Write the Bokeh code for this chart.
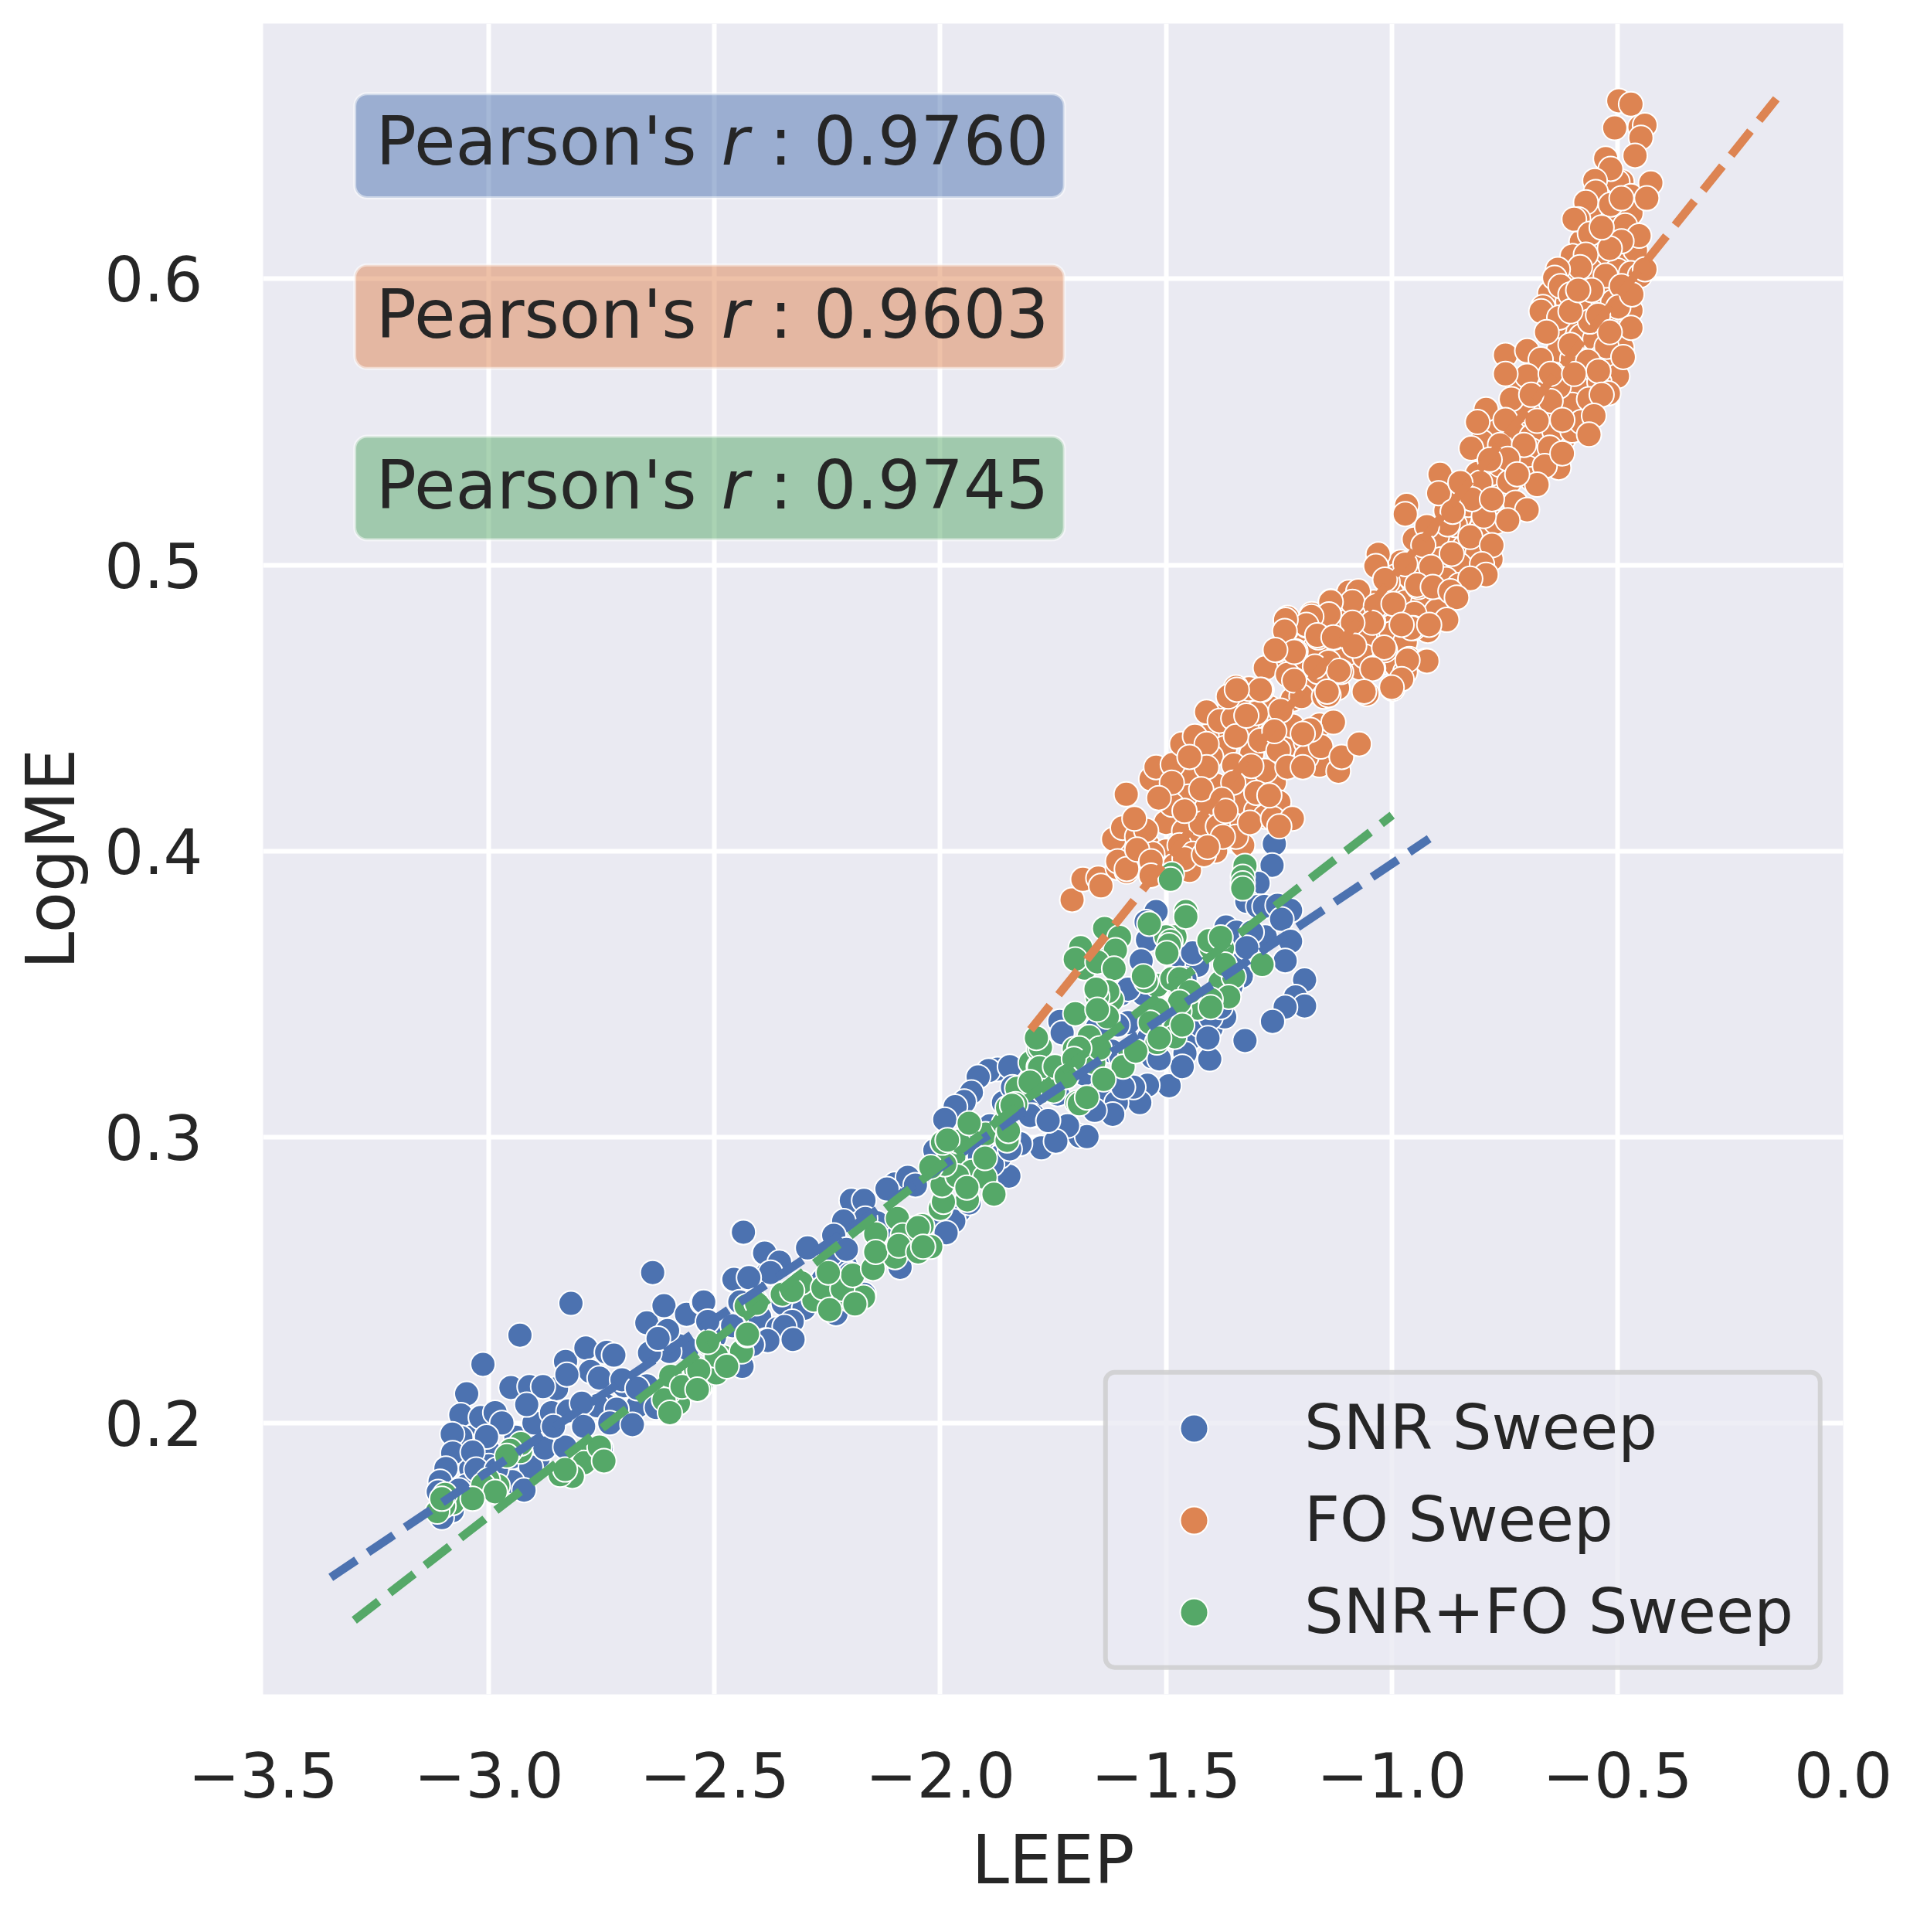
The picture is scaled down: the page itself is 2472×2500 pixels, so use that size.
from bokeh.plotting import figure
from bokeh.models import Range1d, FixedTicker, Label, BoxAnnotation, Legend, LegendItem, ColumnDataSource
from bokeh.embed import file_html
from bokeh.resources import INLINE

x_ticks = [-3.5, -3.0, -2.5, -2.0, -1.5, -1.0, -0.5, 0.0]
x_tick_labels = ["\u22123.5", "\u22123.0", "\u22122.5", "\u22122.0", "\u22121.5", "\u22121.0", "\u22120.5", "0.0"]
y_ticks = [0.2, 0.3, 0.4, 0.5, 0.6]
y_tick_labels = ["0.2", "0.3", "0.4", "0.5", "0.6"]
series_names = ["SNR Sweep", "FO Sweep", "SNR+FO Sweep"]
pearson_values = ["0.9760", "0.9603", "0.9745"]

fit_snr_x = [-3.35, -0.917]
fit_snr_y = [0.146, 0.4043]
fit_fo_x = [-1.80, -0.148]
fit_fo_y = [0.3375, 0.663]
fit_both_x = [-3.298, -0.999]
fit_both_y = [0.131, 0.4125]

snr_points = [
(-3.04,.1950),(-3.00,.1900),(-2.94,.1950),(-2.89,.1880),(-3.04,.1840),(-2.74,.2060),(-2.67,.2060),(-2.58,.2270),
(-2.56,.2260),(-2.50,.2300),(-2.46,.2340),(-2.40,.2370),(-2.36,.2330),(-2.31,.2490),(-2.24,.2470),(-2.21,.2550),
(-2.10,.2660),(-2.14,.2700),(-2.19,.2700),(-1.96,.2980),(-1.93,.3040),
(-1.86,.3120),(-1.80,.3130),(-1.74,.3150),(-1.68,.3220),(-1.62,.3300),(-1.60,.3280),(-1.56,.3340),(-1.50,.3390),
(-1.45,.3420),(-1.40,.3480),(-1.35,.3600),(-1.30,.3640),(-1.28,.3700),(-1.47,.3630),(-1.43,.3600),(-1.60,.3500),
(-1.55,.3500),(-1.65,.3150),(-1.53,.3280),(-1.45,.3340),(-1.40,.3380),(-1.37,.3420),(-2.30,.2430),(-2.26,.2500),
(-2.20,.2520),(-2.14,.2580),(-2.10,.2600),(-2.06,.2680),(-2.00,.2720),(-1.93,.2850),(-1.89,.2950),(-2.60,.2250),
(-2.65,.2130),(-2.70,.2130),(-2.76,.2060),(-2.86,.1930),(-2.95,.1880),(-3.05,.1780),(-3.00,.1850),(-2.90,.2000),
(-2.85,.2120),
(-3.013,.2205),(-2.931,.2307),(-2.818,.2418),(-2.637,.2526),(-2.437,.2667),(-2.390,.2593),(-3.049,.2102),
(-3.062,.2028),(-3.018,.2019),(-2.986,.2036),(-2.971,.2000),(-2.951,.2124),(-2.910,.2127),(-2.880,.2127),
(-2.916,.2064),(-3.062,.1949),(-3.081,.1961),(-3.005,.1952),(-3.080,.1895),(-3.036,.1898),(-3.095,.1841),
(-3.108,.1795),(-3.112,.1759),(-3.081,.1693),(-2.907,.1846),(-2.876,.1912),(-2.948,.1795),(-2.861,.2036),
(-2.824,.2042),(-2.794,.2069),(-2.790,.1988),(-2.831,.1916),(-2.857,.1988),(-2.830,.2215),(-2.785,.2262),
(-2.739,.2247),(-2.723,.2237),(-2.775,.2180),(-2.827,.2169),(-2.755,.2157),(-2.705,.2151),(-2.717,.2048),
(-2.732,.2000),(-2.682,.1994),(-2.671,.2121),(-2.644,.2245),(-2.650,.2350),(-2.612,.2410),(-2.604,.2323),
(-2.562,.2380),(-2.527,.2422),(-2.625,.2295),(-2.458,.2500),(-2.420,.2500),(-2.382,.2524),(-2.443,.2422),
(-2.439,.2199),(-2.386,.2289),(-2.629,.2054),(-2.751,.1910),(-3.002,.1771),(-3.104,.1669),(-3.028,.1837),
(-3.066,.1765),(-2.983,.1837),(-2.922,.1765),
(-1.848,.3243),(-1.873,.3237),(-1.893,.3232),(-1.916,.3210),(-1.931,.3156),(-1.947,.3124),(-1.967,.3106),
(-1.990,.3061),(-2.012,.2953),(-1.890,.3039),(-1.717,.3039),(-1.774,.2967),(-1.743,.2985),(-1.691,.3003),
(-1.794,.3075),(-1.834,.3183),(-1.822,.2976),(-1.856,.2958),(-1.848,.2863),(-1.868,.2931),(-1.885,.2904),
(-1.913,.2931),(-2.100,.2836),(-2.072,.2859),(-2.118,.2818),(-2.055,.2832),(-2.197,.2778),(-2.169,.2778),
(-2.166,.2715),(-2.214,.2706),(-2.236,.2656),(-2.294,.2612),(-1.958,.2742),(-1.970,.2706),(-1.987,.2665),
(-1.936,.2769),(-2.089,.2544),(-2.436,.2667),(-2.389,.2594),(-2.356,.2562),(-2.376,.2526),(-2.457,.2502),
(-2.424,.2508),(-2.444,.2423),(-2.524,.2423),(-2.348,.2418),(-2.302,.2400),(-2.328,.2355),(-2.345,.2337),
(-2.326,.2292),(-2.382,.2288),(-2.416,.2274),(-2.439,.2198),(-2.231,.2382),(-2.169,.2450),(-2.243,.2589),
(-2.208,.2607),(-2.515,.2355),
(-1.260,.4025),(-1.265,.3950),(-1.296,.3887),(-1.321,.3824),(-1.296,.3806),(-1.282,.3806),(-1.253,.3810),
(-1.224,.3792),(-1.244,.3761),(-1.224,.3684),(-1.236,.3616),(-1.193,.3549),(-1.213,.3490),(-1.193,.3458),
(-1.236,.3454),(-1.264,.3404),(-1.325,.3337),(-1.403,.3272),(-1.493,.3179),(-1.541,.3181),(-1.558,.3120),
(-1.610,.3120),(-1.618,.3079),(-1.675,.3001),(-1.718,.3039),(-1.776,.2962),(-1.744,.2985),(-1.658,.3093),
(-1.522,.3788),(-1.544,.3752),(-1.541,.3689),(-1.555,.3616),(-1.441,.3644),(-1.584,.3517),(-1.367,.3734),
(-1.344,.3716),(-1.310,.3716),(-1.321,.3662),(-1.333,.3562),(-1.356,.3526),(-1.735,.3404),(-1.730,.3364),
(-1.424,.3391),(-1.401,.3418),(-1.407,.3346),(-1.458,.3292),(-1.464,.3246),(-1.515,.3273),(-1.584,.3400),
(-1.607,.3391),(-1.538,.3346),(-1.572,.3174),(-1.595,.3174),(-1.846,.3246),(-1.840,.3174),(-1.801,.3075),
(-1.761,.3057),(-1.823,.2976),(-1.846,.2958),(-1.629,.3418),(-1.652,.3382),(-1.458,.3553),(-1.379,.3454),
]

fo_points = [
(-1.12,.4800),(-1.08,.4800),(-1.04,.4870),(-1.00,.4980),(-1.02,.4740),(-1.07,.4640),(-1.12,.4570),(-1.18,.4560),
(-1.22,.4530),(-1.26,.4470),(-1.31,.4460),(-1.12,.4700),(-1.15,.4790),(-1.20,.4760),(-.93,.4960),(-.92,.4770),
(-.90,.4880),(-.83,.5010),(-.87,.5080),(-.93,.5050),(-.98,.5010),(-.88,.5190),(-.85,.5170),(-.80,.5220),(-.75,.5270),
(-.78,.5320),(-.72,.5390),(-.67,.5420),(-.62,.5440),(-.58,.5560),(-.62,.5530),(-.67,.5470),(-.71,.5470),(-.63,.5660),
(-.57,.5750),(-.59,.5650),(-.60,.5830),(-.56,.5920),(-.53,.5850),(-.52,.5760),(-.49,.5860),(-.52,.5980),(-.48,.6000),
(-.55,.6050),(-.58,.6130),(-.53,.6170),(-.49,.6230),(-.56,.6210),(-.52,.6290),(-.49,.6340),(-1.36,.4420),(-1.41,.4400),
(-1.45,.4310),(-1.36,.4490),(-1.42,.4100),(-1.30,.4240),(-1.26,.4240),(-1.21,.4350),(-1.16,.4300),(-1.25,.4170),
(-1.47,.4240),(-1.50,.4180),
(-.53,.6340),(-.50,.6340),(-.47,.6290),(-.54,.6230),(-.51,.6210),(-.47,.6230),(-.55,.6120),(-.52,.6060),(-.48,.6080),
(-.46,.6100),(-.60,.6080),(-.56,.6030),(-.50,.6030),(-.47,.6020),(-.60,.6000),(-.54,.5940),(-.51,.5920),(-.47,.5890),
(-.58,.5890),(-.65,.5950),(-.61,.5920),(-.64,.5830),(-.58,.5800),(-.55,.5790),(-.50,.5810),(-.49,.5760),(-.63,.5750),
(-.60,.5720),(-.54,.5720),(-.51,.5700),(-.50,.5660),(-.66,.5660),(-.61,.5620),(-.58,.5610),(-.54,.5640),(-.52,.5600),
(-.72,.5620),(-.68,.5600),(-.60,.5560),(-.66,.5530),(-.71,.5540),(-.77,.5490),(-.73,.5460),(-.69,.5450),(-.64,.5470),
(-.60,.5470),(-.58,.5500),(-.80,.5430),(-.76,.5420),(-.69,.5400),(-.65,.5410),(-.76,.5350),(-.70,.5340),(-.63,.5340),
(-.81,.5320),(-.74,.5290),(-.69,.5300),(-.86,.5230),(-.83,.5210),(-.80,.5130),(-.77,.5150),(-.84,.5060),(-.81,.5040),
(-.78,.5020),(-.90,.5100),(-.86,.5140),(-.95,.5090),(-.89,.5020),(-.94,.5000),(-.85,.5000),(-.99,.4960),(-.96,.4960),
(-.88,.4950),(-.85,.4930),(-1.00,.4900),(-.97,.4870),(-.93,.4870),(-.90,.4840),(-1.06,.4840),(-1.00,.4810),(-.95,.4830),
(-1.10,.4840),(-1.06,.4750),(-1.00,.4760),(-.97,.4730),(-1.17,.4710),(-1.10,.4690),(-1.06,.4680),(-1.02,.4660),
(-.99,.4650),(-1.14,.4660),(-1.24,.4650),(-1.20,.4640),(-1.28,.4640),(-1.33,.4520),(-1.27,.4500),(-1.20,.4540),
(-1.15,.4540),(-1.32,.4420),(-1.24,.4430),(-1.16,.4440),(-1.37,.4360),(-1.31,.4340),(-1.24,.4360),(-1.19,.4380),
(-1.40,.4330),(-1.35,.4300),(-1.28,.4280),(-1.44,.4260),(-1.39,.4230),(-1.33,.4170),(-1.30,.4140),(-1.28,.4120),
(-1.45,.4190),(-1.41,.4150),(-1.36,.4100),(-1.50,.4100),(-1.46,.4070),(-1.43,.4040),(-1.39,.4000),(-1.33,.4020),
(-1.54,.4020),(-1.50,.4000),(-1.47,.4020),(-1.44,.3990),(-1.52,.3950),(-1.48,.3950),(-1.45,.3960),(-1.58,.4010),
(-1.53,.3990),
(-1.708,.3829),(-1.684,.3901),(-1.650,.3905),(-1.644,.3878),(-1.607,.3941),(-1.587,.3928),
(-1.588,.4198),(-1.616,.4041),(-1.596,.4081),(-1.564,.4050),(-1.544,.4072),(-1.570,.4113),(-1.607,.3964),
(-1.587,.3937),(-1.564,.4005),(-1.533,.3964),(-1.533,.3914),(-1.448,.3932),(-1.459,.3973),(-1.416,.3987),
(-1.487,.4162),(-1.533,.4252),(-1.522,.4293),(-1.485,.4302),(-1.465,.4374),(-1.436,.4401),(-1.410,.4374),
(-1.410,.4293),(-1.410,.4486),(-1.381,.4455),(-1.351,.4464),(-1.422,.4216),(-1.351,.4239),(-1.376,.4180),
(-1.422,.4095),(-1.385,.4086),(-1.345,.4050),(-1.374,.4050),(-1.408,.4014),(-1.314,.4099),(-1.263,.4113),
(-1.220,.4113),(-1.249,.4086),(-1.300,.4203),(-1.271,.4194),(-1.291,.4387),(-1.251,.4351),(-1.220,.4437),
(-1.189,.4329),(-1.157,.4365),(-1.118,.4279),(-1.111,.4329),(-1.072,.4374),(-1.129,.4450),(-1.180,.4423),
(-1.231,.4293),(-1.197,.4293),(-1.311,.4297),(-1.345,.4401),(-1.288,.4563),(-1.316,.4567),(-1.345,.4572),
(-1.362,.4540),(-1.300,.4482),(-1.246,.4491),(-1.217,.4599),(-1.231,.4617),(-1.140,.4545),(-1.055,.4549),
(-0.998,.4567),(-1.041,.4639),(-1.112,.4626),(-1.163,.4626),(-1.213,.4698),(-1.254,.4702),(-1.234,.4774),
(-1.231,.4815),(-1.188,.4788),(-1.163,.4747),(-1.126,.4747),(-1.135,.4873),(-1.177,.4828),(-1.100,.4801),
(-1.083,.4878),(-1.026,.4860),(-1.041,.4801),(-1.015,.4702),(-0.952,.4779),(-0.941,.4923),(-1.009,.4941),
(-0.961,.4671),(-0.924,.4666),(-0.970,.4626),(-1.095,.4905),(-1.322,.4473),(-1.260,.4419),(-1.197,.4410),
(-1.448,.4329),(-1.487,.4239),(-1.516,.4185),(-1.459,.4140),(-1.368,.4140),
(-0.497,.6623),(-0.470,.6611),(-0.506,.6528),(-0.450,.6531),(-0.439,.6538),(-0.448,.6494),(-0.461,.6431),
(-0.526,.6421),(-0.515,.6385),(-0.550,.6344),(-0.548,.6304),(-0.426,.6336),(-0.435,.6282),(-0.570,.6268),
(-0.515,.6260),(-0.491,.6282),(-0.587,.6209),(-0.596,.6209),(-0.483,.6187),(-0.452,.6151),(-0.491,.6132),
(-0.561,.6158),(-0.570,.6085),(-0.583,.6041),(-0.526,.6012),(-0.632,.6034),(-0.639,.6004),(-0.450,.6012),
(-0.439,.6034),(-0.557,.5961),(-0.491,.5975),(-0.626,.5975),(-0.604,.5946),(-0.498,.5902),(-0.468,.5946),
(-0.665,.5902),(-0.669,.5887),(-0.629,.5865),(-0.561,.5851),(-0.543,.5873),(-0.470,.5829),(-0.657,.5814),
(-0.604,.5770),(-0.524,.5763),(-0.487,.5727),(-0.565,.5712),(-0.748,.5734),(-0.700,.5749),(-0.670,.5719),
(-0.700,.5661),(-0.748,.5668),(-0.542,.5678),(-0.630,.5624),(-0.563,.5580),(-0.535,.5595),(-0.735,.5580),
(-0.648,.5573),(-0.791,.5544),(-0.810,.5500),(-0.748,.5507),(-0.678,.5504),(-0.552,.5522),(-0.563,.5456),
(-0.622,.5507),(-0.824,.5408),(-0.707,.5420),(-0.743,.5371),(-0.661,.5346),(-0.622,.5390),(-0.783,.5368),
(-0.804,.5288),(-0.678,.5281),(-0.722,.5317),(-0.893,.5317),(-0.896,.5251),(-0.848,.5288),(-0.967,.5208),
(-0.970,.5178),(-0.726,.5218),(-0.700,.5193),(-0.743,.5156),(-0.796,.5171),(-0.876,.5142),(-0.922,.5134),
(-0.826,.5098),(-0.778,.5069),(-0.930,.5069),(-0.867,.5039),(-1.030,.5037),(-1.035,.4996),(-0.970,.5003),
(-0.800,.5003),(-0.791,.4966),(-0.913,.4993),(-0.826,.4952),(-1.015,.4949),(-0.944,.4930),(-0.909,.4923),
(-1.074,.4908),(-0.870,.4908),(-0.856,.4886),(-1.087,.4871),(-1.035,.4857),(-1.135,.4871),(-0.878,.4808),
(-0.957,.4779),(-0.917,.4791),(-1.043,.4798),(-1.087,.4798),(-1.139,.4827),(-1.178,.4820),(-1.189,.4791),
(-1.235,.4808),(-1.237,.4769),(-1.165,.4754),(-1.129,.4747),(-1.017,.4711),(-1.216,.4696),(-1.258,.4703),
(-0.922,.4664),(-1.043,.4637),(-0.965,.4667),(-1.117,.4630),(-1.216,.4596),(-1.170,.4645),(-0.978,.4601),
(-1.000,.4572),(-1.291,.4564),(-1.343,.4564),(-1.143,.4557),(-1.061,.4557),
(-0.604,.5887),(-0.587,.5961),(-0.517,.6107),(-0.535,.6180),(-0.648,.5668),(-0.596,.5668),(-0.517,.5814),
(-0.691,.5595),(-0.822,.5230),(-0.778,.5230),(-0.865,.5186),(-0.996,.4864),(-0.978,.4791),(-1.083,.4718),
]

both_points = [
(-1.62,.3480),(-1.63,.3420),(-1.67,.3350),(-1.76,.3180),(-1.72,.3240),(-1.66,.3260),(-1.58,.3300),(-1.52,.3330),
(-1.43,.3450),(-1.38,.3540),(-1.35,.3560),(-1.52,.3530),(-1.47,.3440),(-1.48,.3380),(-1.48,.3700),(-1.50,.3700),
(-1.40,.3660),(-1.375,.3660),(-1.68,.3590),(-1.63,.3620),(-1.80,.3260),(-1.83,.3170),(-1.90,.3010),(-1.97,.2930),
(-1.93,.2880),(-1.94,.2780),(-1.85,.3000),(-2.00,.2750),(-2.04,.2690),(-2.10,.2580),(-2.53,.2130),(-2.48,.2230),
(-2.44,.2250),(-2.58,.2070),(-2.60,.2110),(-2.78,.1880),(-2.82,.1830),(-2.77,.1900),(-2.93,.1900),(-2.98,.1780),
(-3.08,.1720),(-3.10,.1710),(-2.28,.2430),(-2.24,.2470),(-2.20,.2430),(-2.17,.2440),(-2.35,.2450),
(-3.114,.1690),(-3.097,.1750),(-3.104,.1735),(-2.929,.1928),(-2.952,.1904),(-2.960,.1885),(-3.002,.1801),
(-3.013,.1783),(-2.986,.1759),(-3.036,.1735),(-2.789,.1861),(-2.815,.1813),(-2.842,.1819),(-2.755,.1916),
(-2.745,.1867),(-2.831,.1837),(-2.597,.2163),(-2.612,.2081),(-2.599,.2036),(-2.542,.2187),(-2.572,.2127),
(-2.534,.2121),(-2.515,.2277),(-2.473,.2199),(-2.428,.2307),(-2.496,.2175),(-2.409,.2428),(-2.496,.2235),
(-2.515,.2283),(-2.427,.2310),(-2.473,.2198),(-2.535,.2184),(-2.538,.2117),(-2.430,.2409),(-2.407,.2418),
(-2.308,.2490),(-2.328,.2463),(-2.260,.2472),(-2.217,.2468),(-2.194,.2517),(-2.245,.2396),(-2.189,.2416),
(-2.248,.2526),(-2.149,.2540),(-2.143,.2661),(-2.143,.2598),(-2.095,.2715),(-2.083,.2656),(-2.049,.2683),
(-2.092,.2620),(-2.049,.2598),(-2.021,.2616),(-2.038,.2616),(-1.993,.2773),(-1.996,.2832),(-1.962,.2863),
(-1.901,.2859),(-1.881,.2800),(-1.901,.2926),(-1.990,.2904),(-2.021,.2895),(-1.995,.2980),(-1.961,.2985),
(-1.984,.2989),(-1.936,.3048),(-1.852,.2988),(-1.859,.3048),(-1.833,.3115),(-1.851,.3102),(-1.782,.3245),
(-1.782,.3308),(-1.748,.3245),(-1.771,.3165),(-1.697,.3120),(-1.703,.3308),(-1.721,.3210),(-1.941,.2823),
(-1.487,.3919),(-1.490,.3901),(-1.325,.3948),(-1.330,.3910),(-1.330,.3887),(-1.330,.3869),(-1.456,.3788),
(-1.456,.3770),(-1.636,.3729),(-1.603,.3698),(-1.689,.3662),(-1.701,.3621),(-1.612,.3653),(-1.652,.3612),
(-1.615,.3589),(-1.537,.3745),(-1.490,.3684),(-1.493,.3671),(-1.498,.3643),(-1.405,.3686),(-1.379,.3698),
(-1.287,.3603),(-1.370,.3603),(-1.544,.3544),(-1.550,.3562),(-1.629,.3508),(-1.652,.3490),(-1.655,.3517),
(-1.487,.3553),(-1.470,.3553),(-1.361,.3490),(-1.401,.3481),(-1.447,.3508),(-1.470,.3472),(-1.401,.3454),
(-1.518,.3445),(-1.701,.3431),(-1.652,.3445),(-1.481,.3350),(-1.464,.3391),(-1.535,.3400),(-1.515,.3346),
(-1.647,.3310),(-1.692,.3310),(-1.778,.3314),(-1.787,.3346),(-1.780,.3242),(-1.746,.3246),(-1.704,.3273),
(-1.595,.3246),(-1.567,.3300),(-1.638,.3201),(-1.772,.3161),(-1.749,.3161),(-1.692,.3116),(-1.675,.3138),
(-1.841,.3111),(-1.849,.3021),(-1.721,.3210),(-1.801,.3192),
]

colors = ["#4C72B0", "#DD8452", "#55A868"]
text_color = "#262626"
bg = "#EAEAF2"

p = figure(width=2464, height=2484, output_backend="svg", toolbar_location=None,
           x_range=Range1d(-3.5, 0.0), y_range=Range1d(0.1051, 0.6893),
           min_border_left=340, min_border_right=79, min_border_top=30, min_border_bottom=292,
           background_fill_color=bg, border_fill_color="white", outline_line_color=None)

for ax in (p.xaxis[0], p.yaxis[0]):
    ax.axis_line_color = None
    ax.major_tick_line_color = None
    ax.minor_tick_line_color = None
    ax.major_label_text_font = "DejaVu Sans"
    ax.major_label_text_font_size = "80px"
    ax.major_label_text_color = text_color
    ax.axis_label_text_font = "DejaVu Sans"
    ax.axis_label_text_font_size = "87px"
    ax.axis_label_text_font_style = "normal"
    ax.axis_label_text_color = text_color

p.xaxis[0].ticker = FixedTicker(ticks=x_ticks)
p.yaxis[0].ticker = FixedTicker(ticks=y_ticks)
p.xaxis[0].major_label_overrides = dict(zip(x_ticks, x_tick_labels))
p.yaxis[0].major_label_overrides = dict(zip(y_ticks, y_tick_labels))
p.xaxis[0].axis_label = "LEEP"
p.yaxis[0].axis_label = "LogME"
p.xaxis[0].major_label_standoff = 68
p.yaxis[0].major_label_standoff = 72
p.xaxis[0].axis_label_standoff = 27
p.yaxis[0].axis_label_standoff = 15
p.xgrid.grid_line_color = "white"
p.ygrid.grid_line_color = "white"
p.xgrid.grid_line_width = 6
p.ygrid.grid_line_width = 6

renderers = []
for pts, color in zip((snr_points, fo_points, both_points), colors):
    src = ColumnDataSource(dict(x=[a for a, _ in pts], y=[b for _, b in pts]))
    renderers.append(p.scatter("x", "y", source=src, size=32, fill_color=color,
                               line_color="white", line_width=2))

fits = [(fit_snr_x, fit_snr_y), (fit_fo_x, fit_fo_y), (fit_both_x, fit_both_y)]
for (fx, fy), color in zip(fits, colors):
    p.line(fx, fy, line_color=color, line_width=11, line_dash="40 18")

box_tops = [0.6648, 0.6049, 0.5450]
box_bottoms = [0.6284, 0.5687, 0.5088]
baselines = [0.6399, 0.5794, 0.5197]
for top, bottom, base, val, color in zip(box_tops, box_bottoms, baselines, pearson_values, colors):
    p.add_layout(BoxAnnotation(left=-3.297, right=-1.725, top=top, bottom=bottom,
                               fill_color=color, fill_alpha=0.5, line_color="white", line_alpha=0.5,
                               line_width=4, border_radius=16))
    for tx, txt, style in ((-3.25, "Pearson's", "normal"), (-2.485, "r", "italic"), (-2.378, ": " + val, "normal")):
        p.add_layout(Label(x=tx, y=base, y_offset=30, text=txt, text_font="DejaVu Sans", text_font_size="87px",
                           text_font_style=style, text_color=text_color, text_baseline="alphabetic",
                           text_align="left"))

p.add_layout(BoxAnnotation(left=-1.634, right=-0.051, top=0.2177, bottom=0.1145,
                           fill_color=bg, fill_alpha=0.8, line_color="#cccccc", line_alpha=0.8,
                           line_width=6, border_radius=12))
legend = Legend(items=[LegendItem(label=n, renderers=[r]) for n, r in zip(series_names, renderers)],
                location=(1132, 60), orientation="vertical", background_fill_alpha=0,
                border_line_color=None, glyph_width=146, glyph_height=90, label_height=90,
                label_standoff=70, spacing=26, padding=30, margin=0,
                label_text_font="DejaVu Sans", label_text_font_size="80px", label_text_color=text_color)
p.add_layout(legend, "center")

open("out.html", "w").write(file_html(p, INLINE))
